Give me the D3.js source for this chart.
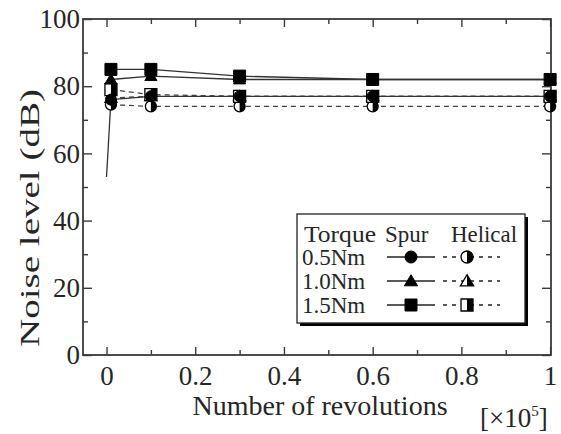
<!DOCTYPE html>
<html>
<head>
<meta charset="utf-8">
<script src="https://cdn.jsdelivr.net/npm/d3@7"></script>
<style>
  html, body { margin: 0; padding: 0; background: #fff; }
</style>
</head>
<body>
<svg id="chart" width="561" height="434" font-family="Liberation Serif, DejaVu Serif, serif"></svg>
<script>
// ---- data (x in 10^5 revolutions, y in dB) ----
const spur05X = [0, 0.01, 0.1, 0.3, 0.6, 1.0];
const spur05Y = [53, 76, 77, 77, 77, 77];
const spur10X = [0.01, 0.1, 0.3, 0.6, 1.0];
const spur10Y = [82, 83, 82, 82, 82];
const spur15X = [0.01, 0.1, 0.3, 0.6, 1.0];
const spur15Y = [85, 85, 83, 82, 82];

const hel05X = [0.01, 0.1, 0.3, 0.6, 1.0];
const hel05Y = [74.5, 74, 74, 74, 74];
const hel10X = [0.01, 0.1, 0.3, 0.6, 1.0];
const hel10Y = [76.5, 77, 77, 77, 77];
const hel15X = [0.01, 0.1, 0.3, 0.6, 1.0];
const hel15Y = [79, 77.5, 77, 77, 77];

const xTicks = [0, 0.2, 0.4, 0.6, 0.8, 1];
const xMinor = [0.1, 0.3, 0.5, 0.7, 0.9];
const yTicks = [0, 20, 40, 60, 80, 100];
const yMinor = [10, 30, 50, 70, 90];

const torqueLabels = ["0.5Nm", "1.0Nm", "1.5Nm"];
const markerShapes = ["circle", "triangle", "square"];

const series = [
  { x: spur05X, y: spur05Y, shape: "circle",   helical: false },
  { x: spur10X, y: spur10Y, shape: "triangle", helical: false },
  { x: spur15X, y: spur15Y, shape: "square",   helical: false },
  { x: hel05X,  y: hel05Y,  shape: "circle",   helical: true },
  { x: hel10X,  y: hel10Y,  shape: "triangle", helical: true },
  { x: hel15X,  y: hel15Y,  shape: "square",   helical: true }
];

// ---- layout ----
const L = 83, R = 551, T = 19, B = 355;
const FONT = "Liberation Serif, DejaVu Serif, serif";
const svg = d3.select("#chart");
const ink = "#3a3a3a";
const txt = "#262626";

const x = d3.scaleLinear().domain([-0.053, 1.002]).range([L, R]);
const y = d3.scaleLinear().domain([0, 100]).range([B, T]);

// frame
svg.append("rect").attr("x", L).attr("y", T).attr("width", R - L).attr("height", B - T)
  .attr("fill", "none").attr("stroke", ink).attr("stroke-width", 1.8);

function styleAxis(g) {
  g.attr("font-family", FONT);
  g.select(".domain").remove();
  g.selectAll(".tick line").attr("stroke", ink).attr("stroke-width", 1.4);
  g.selectAll(".tick text").attr("font-family", FONT).attr("font-size", 27).attr("fill", txt);
}

// major + minor ticks, inward on all four sides
svg.append("g").attr("transform", `translate(0,${B})`)
  .call(d3.axisBottom(x).tickValues(xTicks).tickSize(-8).tickPadding(11).tickFormat(d3.format("")))
  .call(styleAxis);
svg.append("g").attr("transform", `translate(0,${B})`)
  .call(d3.axisBottom(x).tickValues(xMinor).tickSize(-5).tickFormat(""))
  .call(styleAxis);
svg.append("g").attr("transform", `translate(0,${T})`)
  .call(d3.axisTop(x).tickValues(xTicks).tickSize(-8).tickFormat(""))
  .call(styleAxis);
svg.append("g").attr("transform", `translate(0,${T})`)
  .call(d3.axisTop(x).tickValues(xMinor).tickSize(-5).tickFormat(""))
  .call(styleAxis);

svg.append("g").attr("transform", `translate(${L},0)`)
  .call(d3.axisLeft(y).tickValues(yTicks).tickSize(-9).tickPadding(3))
  .call(styleAxis);
svg.append("g").attr("transform", `translate(${L},0)`)
  .call(d3.axisLeft(y).tickValues(yMinor).tickSize(-5).tickFormat(""))
  .call(styleAxis);
svg.append("g").attr("transform", `translate(${R},0)`)
  .call(d3.axisRight(y).tickValues(yTicks).tickSize(-9).tickFormat(""))
  .call(styleAxis);
svg.append("g").attr("transform", `translate(${R},0)`)
  .call(d3.axisRight(y).tickValues(yMinor).tickSize(-5).tickFormat(""))
  .call(styleAxis);

// axis titles
svg.append("text").attr("x", 320).attr("y", 415).attr("text-anchor", "middle")
  .attr("font-size", 28).attr("fill", txt).text("Number of revolutions");
const unit = svg.append("text").attr("x", 480).attr("y", 427).attr("font-size", 27).attr("fill", txt);
unit.append("tspan").text("[×10");
unit.append("tspan").attr("dy", -11).attr("font-size", 15).text("5");
unit.append("tspan").attr("dy", 11).text("]");

svg.append("text").attr("transform", "translate(39,218) rotate(-90)")
  .attr("text-anchor", "middle").attr("font-size", 28).attr("fill", txt)
  .attr("textLength", 258).attr("lengthAdjust", "spacingAndGlyphs")
  .text("Noise level (dB)");

// ---- markers ----
function drawMarker(g, shape, cx, cy, s, helical) {
  const h = s / 2;
  const path = d3.path();
  if (shape === "circle") path.arc(cx, cy, h, 0, 2 * Math.PI);
  if (shape === "square") path.rect(cx - h, cy - h, s, s);
  if (shape === "triangle") {
    path.moveTo(cx, cy - h * 1.05); path.lineTo(cx + h * 1.1, cy + h * 0.8);
    path.lineTo(cx - h * 1.1, cy + h * 0.8); path.closePath();
  }
  if (!helical) {
    g.append("path").attr("d", path.toString()).attr("fill", "#000").attr("stroke", "#000").attr("stroke-width", 1);
    return;
  }
  const id = "clip" + Math.random().toString(36).slice(2);
  g.append("clipPath").attr("id", id).append("rect")
    .attr("x", cx).attr("y", cy - s).attr("width", s).attr("height", 2 * s);
  g.append("path").attr("d", path.toString()).attr("fill", "#fff").attr("stroke", "#000").attr("stroke-width", 1.3);
  g.append("path").attr("d", path.toString()).attr("fill", "#000").attr("clip-path", `url(#${id})`);
}

const lineGen = d3.line().x(d => x(d[0])).y(d => y(d[1]));

// helical first (dashed), then spur on top
const order = [3, 4, 5, 0, 1, 2];
order.forEach(i => {
  const s = series[i];
  const pts = s.x.map((v, k) => [v, s.y[k]]);
  svg.append("path").attr("d", lineGen(pts)).attr("fill", "none")
    .attr("stroke", s.helical ? "#444" : "#333").attr("stroke-width", 1.3)
    .attr("stroke-dasharray", s.helical ? "5,4" : null);
});
const mk = svg.append("g");
order.forEach(i => {
  const s = series[i];
  s.x.forEach((v, k) => {
    if (!s.helical && s.shape === "circle" && v === 0) return;
    drawMarker(mk, s.shape, x(v), y(s.y[k]), s.shape === "square" ? 12 : 11, s.helical);
  });
});

// ---- legend ----
const lg = svg.append("g").attr("font-size", 23).attr("fill", txt);
const bx = 297, by = 214, bw = 228, bh = 109;
lg.append("rect").attr("x", bx + 3).attr("y", by + 3).attr("width", bw).attr("height", bh).attr("fill", "#000");
lg.append("rect").attr("x", bx).attr("y", by).attr("width", bw).attr("height", bh)
  .attr("fill", "#fff").attr("stroke", "#222").attr("stroke-width", 1.3);

lg.append("text").attr("x", 304).attr("y", 242).attr("textLength", 72).attr("lengthAdjust", "spacingAndGlyphs").text("Torque");
lg.append("text").attr("x", 385).attr("y", 242).text("Spur");
lg.append("text").attr("x", 451).attr("y", 242).attr("textLength", 66).attr("lengthAdjust", "spacingAndGlyphs").text("Helical");

torqueLabels.forEach((lab, i) => {
  const cy = 257 + i * 24;
  lg.append("text").attr("x", 302).attr("y", cy + 8).text(lab);
  lg.append("line").attr("x1", 387).attr("x2", 435).attr("y1", cy).attr("y2", cy)
    .attr("stroke", "#222").attr("stroke-width", 1.5);
  drawMarker(lg, markerShapes[i], 411, cy, 12, false);
  lg.append("line").attr("x1", 443).attr("x2", 500).attr("y1", cy).attr("y2", cy)
    .attr("stroke", "#222").attr("stroke-width", 1.3).attr("stroke-dasharray", "4,5");
  drawMarker(lg, markerShapes[i], 467, cy, 12, true);
});
</script>
</body>
</html>
